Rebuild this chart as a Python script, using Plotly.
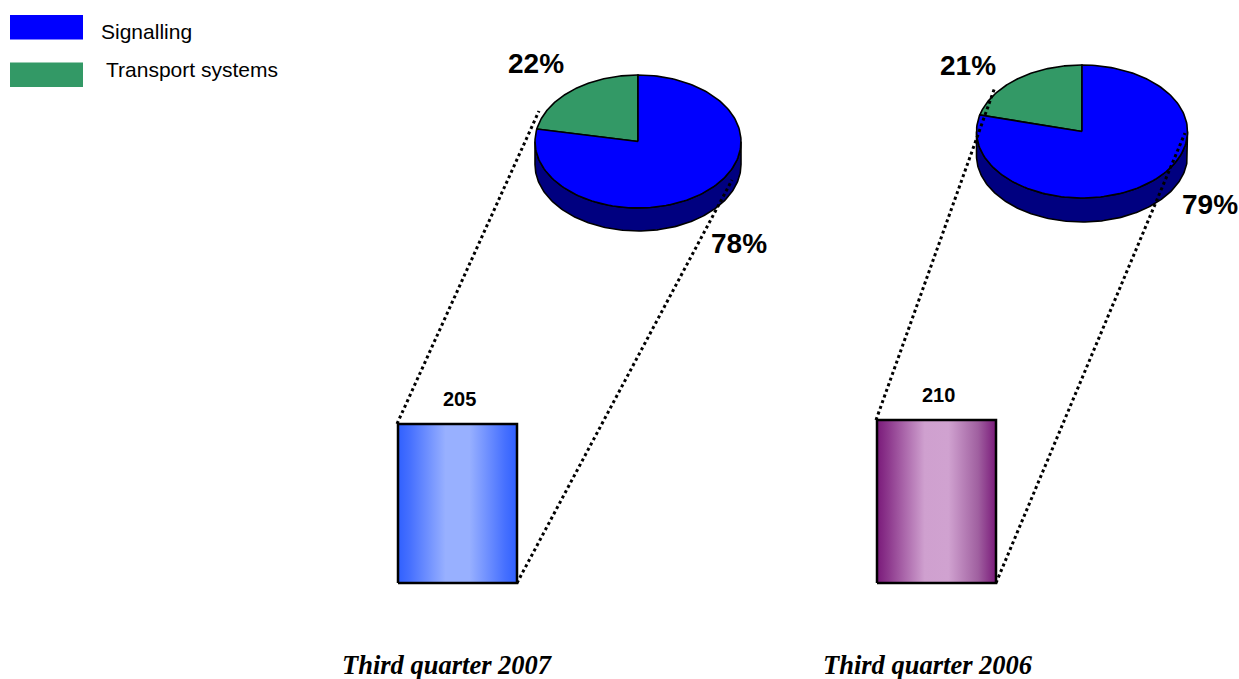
import numpy as np
import plotly.graph_objects as go

# ---------------- data ----------------
periods = ["Third quarter 2007", "Third quarter 2006"]
order_intake = [205, 210]
segments = ["Signalling", "Transport systems"]
signalling_pct = [78, 79]
transport_pct = [22, 21]

# ---------------- style / layout ----------------
W, H = 1239, 679
SEG_TOP = {"Signalling": "#0000FF", "Transport systems": "#339966"}
SEG_SIDE = {"Signalling": "#000080", "Transport systems": "#1A4D33"}
BAR_SCALES = [
    [[0, "#3060FF"], [0.1, "#4670FF"], [0.4, "#98B0FF"], [0.6, "#98B0FF"], [0.9, "#4670FF"], [1, "#3060FF"]],
    [[0, "#7A1A7A"], [0.1, "#8E3A8E"], [0.4, "#CFA0CF"], [0.6, "#D0A2D0"], [0.85, "#A060A0"], [1, "#7A1A7A"]],
]
BAR_CENTERS = [457.5, 936.5]
BAR_WIDTH = 119
BAR_BASE_PX = 583
PX_PER_UNIT = 0.776
PIE_CENTERS = [(638, 141.5), (1082, 131.5)]
PIE_RX = [103, 105.5]
PIE_RY = [66.5, 66.5]
PIE_DEPTH = [23, 24]
LABEL_POS = [  # (signalling label, transport label)
    ((739, 243), (536, 63)),
    ((1210, 204), (968, 65)),
]
CONNECT_ENDS = [((539, 111), (732, 180)), ((995, 87), (1185, 133))]
PERIOD_LABEL_X = [447, 928]

fig = go.Figure()


def arc(cx, cy, rx, ry, a0, a1, n=160):
    t = np.radians(np.linspace(a0, a1, n))
    return cx + rx * np.cos(t), cy - ry * np.sin(t)


def y2_of_px(p):
    return (BAR_BASE_PX - p) / PX_PER_UNIT


# ---------------- pies ----------------
for i, period in enumerate(periods):
    cx, cy = PIE_CENTERS[i]
    rx, ry, d = PIE_RX[i], PIE_RY[i], PIE_DEPTH[i]
    shares = {"Transport systems": transport_pct[i], "Signalling": signalling_pct[i]}
    ranges = []
    a = 90.0
    for seg in ["Transport systems", "Signalling"]:
        span = 360.0 * shares[seg] / 100.0
        ranges.append((seg, a, a + span))
        a += span
    for seg, a0, a1 in ranges:
        for lo, hi in [(180, 360), (540, 720)]:
            s0, s1 = max(a0, lo), min(a1, hi)
            if s1 > s0:
                xt, yt = arc(cx, cy, rx, ry, s0, s1)
                xb, yb = arc(cx, cy + d, rx, ry, s1, s0)
                fig.add_trace(go.Scatter(
                    x=np.concatenate([xt, xb, xt[:1]]), y=np.concatenate([yt, yb, yt[:1]]),
                    mode="lines", fill="toself", fillcolor=SEG_SIDE[seg],
                    line=dict(color="black", width=1.6), hoverinfo="skip", showlegend=False))
    for seg, a0, a1 in ranges:
        xa, ya = arc(cx, cy, rx, ry, a0, a1)
        fig.add_trace(go.Scatter(
            x=np.concatenate([[cx], xa, [cx]]), y=np.concatenate([[cy], ya, [cy]]),
            mode="lines", fill="toself", fillcolor=SEG_TOP[seg],
            line=dict(color="black", width=1.6), name=seg,
            hovertemplate=f"{period}<br>{seg}: {shares[seg]}%<extra></extra>", showlegend=False))
    (sx, sy), (tx, ty) = LABEL_POS[i]
    fig.add_annotation(x=sx, y=sy, xref="x", yref="y", text=f"{signalling_pct[i]}%", showarrow=False,
                       font=dict(family="Arial, Liberation Sans", size=28, color="black", weight="bold"))
    fig.add_annotation(x=tx, y=ty, xref="x", yref="y", text=f"{transport_pct[i]}%", showarrow=False,
                       font=dict(family="Arial, Liberation Sans", size=28, color="black", weight="bold"))

# ---------------- bars ----------------
for i, v in enumerate(order_intake):
    x0 = BAR_CENTERS[i] - BAR_WIDTH / 2
    x1 = BAR_CENTERS[i] + BAR_WIDTH / 2
    fig.add_trace(go.Scatter(
        x=[x0, x1, x1, x0, x0], y=[0, 0, v, v, 0], yaxis="y2",
        mode="lines", fill="toself",
        fillgradient=dict(type="horizontal", colorscale=BAR_SCALES[i]),
        line=dict(color="black", width=2.5), hovertemplate=f"{periods[i]}: {v}<extra></extra>",
        showlegend=False))
    fig.add_annotation(x=BAR_CENTERS[i] + 2, y=v, xref="x", yref="y2", text=str(v), showarrow=False,
                       yanchor="bottom", yshift=12,
                       font=dict(family="Arial, Liberation Sans", size=20, color="black", weight="bold"))
    top_px = BAR_BASE_PX - PX_PER_UNIT * v
    (lx, ly), (rx_, ry_) = CONNECT_ENDS[i]
    fig.add_trace(go.Scatter(x=[x0 - 1, lx], y=[top_px, ly], mode="lines",
                             line=dict(color="black", width=3, dash="dot"),
                             hoverinfo="skip", showlegend=False))
    fig.add_trace(go.Scatter(x=[x1, rx_], y=[BAR_BASE_PX, ry_], mode="lines",
                             line=dict(color="black", width=3, dash="dot"),
                             hoverinfo="skip", showlegend=False))
    fig.add_annotation(x=PERIOD_LABEL_X[i], y=665, xref="x", yref="y", text=f"<i><b>{periods[i]}</b></i>",
                       showarrow=False,
                       font=dict(family="Times New Roman, Liberation Serif", size=26.5, color="black"))

# ---------------- legend ----------------
leg_y = [27, 74.5]
for j, seg in enumerate(segments):
    fig.add_shape(type="rect", xref="x", yref="y", x0=10, x1=83, y0=leg_y[j] - 12, y1=leg_y[j] + 12.5,
                  fillcolor=SEG_TOP[seg], line=dict(width=0), layer="above")
    fig.add_annotation(x=99 if j == 0 else 104, y=leg_y[j] + 4 if j == 0 else leg_y[j] - 5, xref="x", yref="y",
                       text=seg, showarrow=False, xanchor="left",
                       font=dict(family="Arial, Liberation Sans", size=21, color="black"))

fig.update_layout(
    width=W, height=H, margin=dict(l=0, r=0, t=0, b=0),
    paper_bgcolor="white", plot_bgcolor="white", showlegend=False,
    xaxis=dict(range=[0, W], visible=False, fixedrange=True),
    yaxis=dict(range=[H, 0], visible=False, fixedrange=True),
    yaxis2=dict(range=[y2_of_px(H), y2_of_px(0)], overlaying="y", visible=False, fixedrange=True),
)

fig.write_html("out.html")
